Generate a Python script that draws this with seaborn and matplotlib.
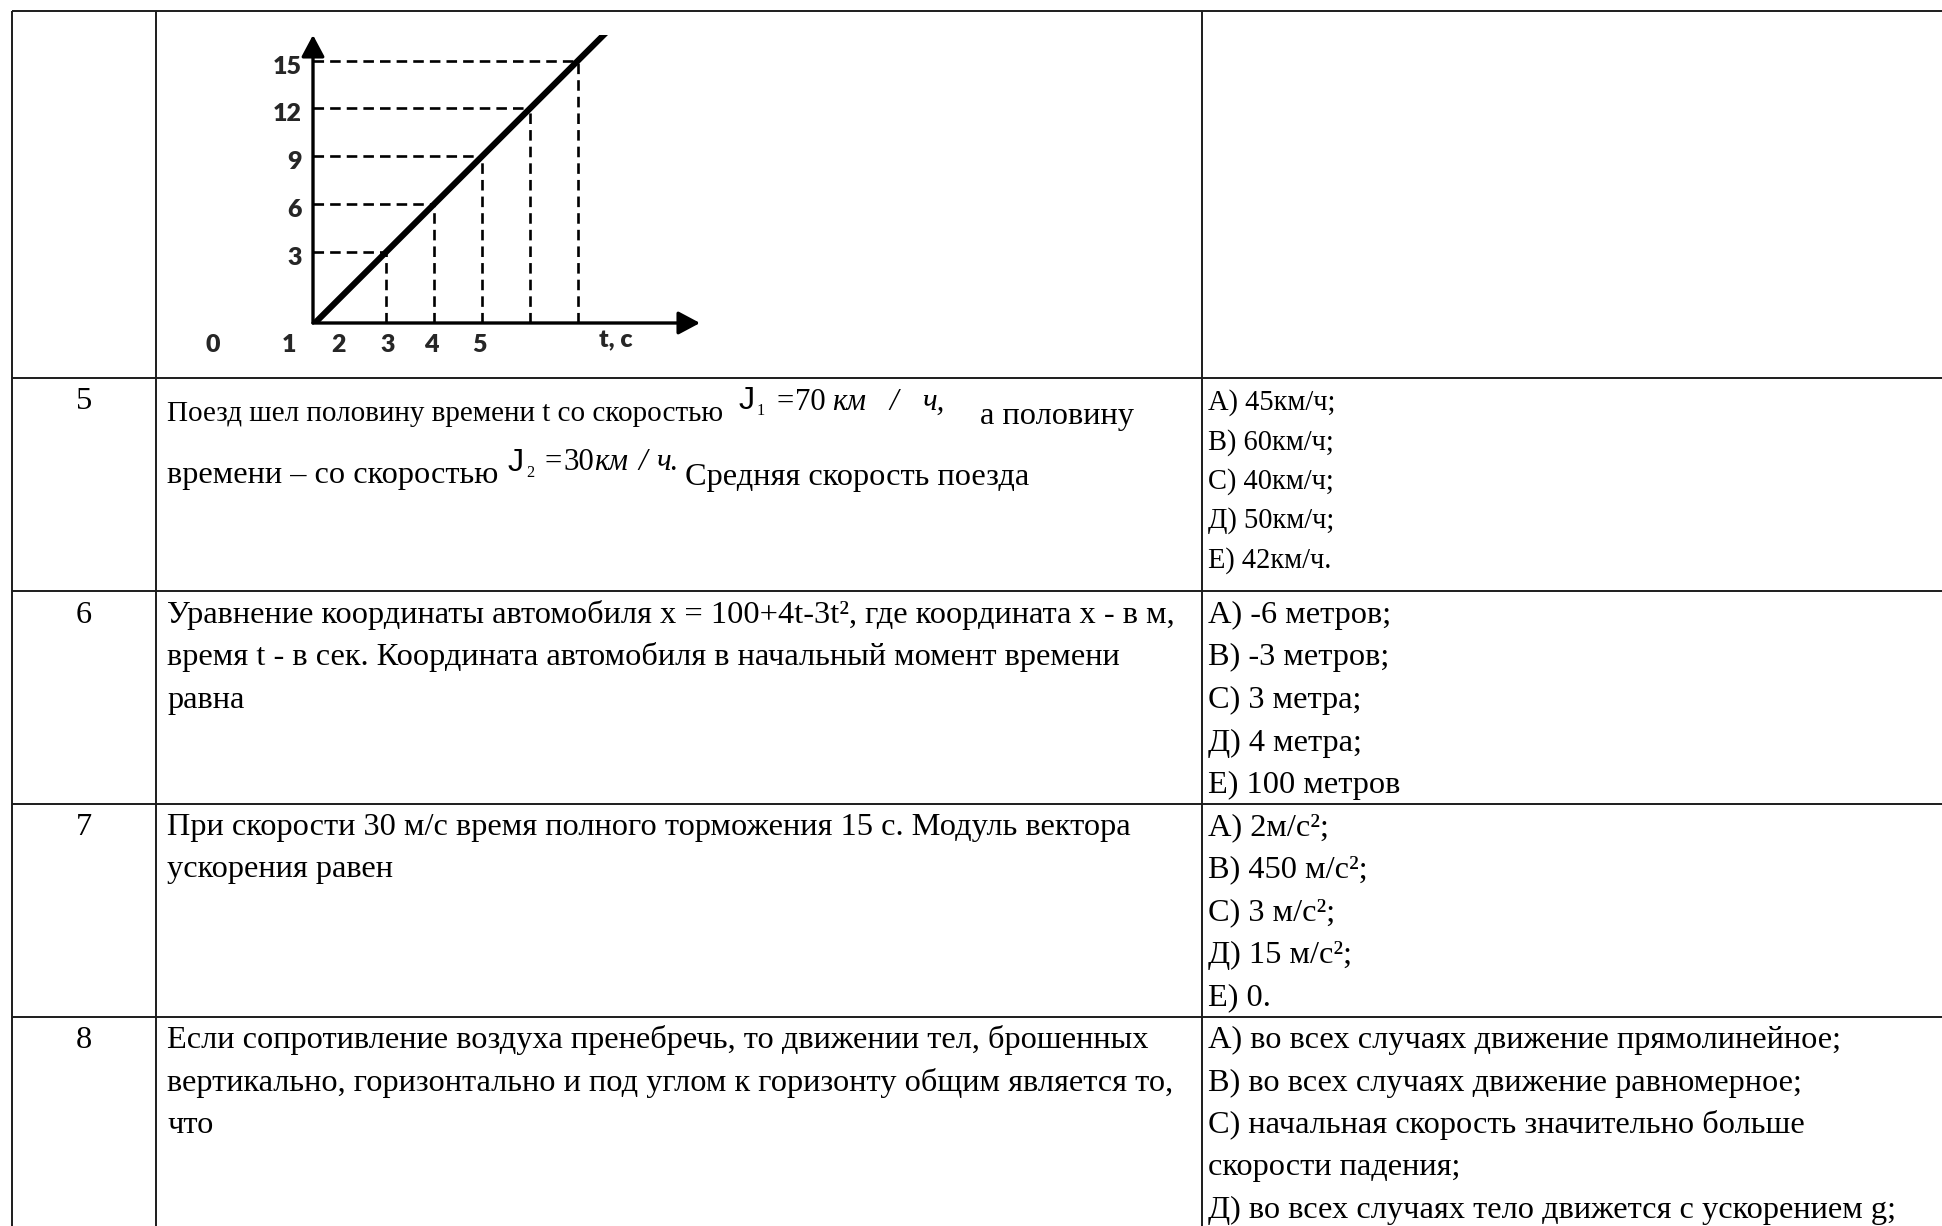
import numpy as np
import pandas as pd
import matplotlib
matplotlib.use("Agg")
import matplotlib.pyplot as plt
from matplotlib.patches import ArrowStyle
import matplotlib.transforms as mtransforms
import seaborn as sns

# ---------------- data ----------------
t_marks = [3, 4, 5, 6, 7]            # time values of the dashed guide points
v_marks = [3, 6, 9, 12, 15]          # values read on the vertical axis
y_tick_labels = ["3", "6", "9", "12", "15"]
x_tick_labels = ["0", "1", "2", "3", "4", "5"]
x_tick_pos = [-0.6, 0.98, 2.02, 3.04, 3.94, 4.94]
x_axis_label = "t, c"

row_numbers = ["5", "6", "7", "8"]
q6 = ["Уравнение координаты автомобиля x = 100+4t-3t², где координата x - в м,",
      "время t - в сек. Координата автомобиля в начальный момент времени",
      "равна"]
q7 = ["При скорости 30 м/с время полного торможения 15 с. Модуль вектора",
      "ускорения равен"]
q8 = ["Если сопротивление воздуха пренебречь, то движении тел, брошенных",
      "вертикально, горизонтально и под углом к горизонту общим является то,",
      "что"]
a5 = ["А) 45км/ч;", "В) 60км/ч;", "С) 40км/ч;", "Д) 50км/ч;", "Е) 42км/ч."]
a6 = ["А) -6 метров;", "В) -3 метров;", "С) 3 метра;", "Д) 4 метра;", "Е) 100 метров"]
a7 = ["А) 2м/с²;", "В) 450 м/с²;", "С) 3 м/с²;", "Д) 15 м/с²;", "Е) 0."]
a8 = ["А) во всех случаях движение прямолинейное;",
      "В) во всех случаях движение равномерное;",
      "С) начальная скорость значительно больше",
      "скорости падения;",
      "Д) во всех случаях тело движется с ускорением g;"]

# ---------------- style ----------------
sns.set_theme(style="white")
plt.rcParams["font.family"] = ["Liberation Serif", "DejaVu Serif"]

W, H = 1942, 1226
fig = plt.figure(figsize=(W / 100, H / 100), dpi=100)
fig.patch.set_facecolor("white")

# page axes in pixel units
bg = fig.add_axes([0, 0, 1, 1], zorder=0)
bg.set_xlim(0, W)
bg.set_ylim(H, 0)
bg.axis("off")

SERIF = "Liberation Serif"
fig.canvas.draw()
r = fig.canvas.get_renderer()
probe = bg.text(0, 0, q6[0], fontsize=10, family=SERIF)
FS = 10 * 1012 / probe.get_window_extent(r).width
probe.remove()
FS5 = FS * 0.9      # first line of row 5 is set narrower in the reference
FA5 = FS * 0.88
FEQ = FS * 0.95

# table grid
lc = "#1c1c1c"
lw = 1.4
x_left, x_c1, x_c2 = 12, 156, 1202
row_tops = [11, 378, 591, 804, 1017]
for x in (x_left, x_c1, x_c2):
    bg.plot([x, x], [row_tops[0], H], color=lc, lw=lw, solid_capstyle="butt")
for y in row_tops:
    bg.plot([x_left, W], [y, y], color=lc, lw=lw, solid_capstyle="butt")


def put(x, y, s, size=None, **kw):
    bg.text(x, y, s, fontsize=size or FS, family=kw.pop("family", SERIF),
            va="baseline", ha=kw.pop("ha", "left"), color="black", **kw)


# row numbers
num_base = [409, 623, 835, 1048]
for n, b in zip(row_numbers, num_base):
    put(84, b, n, ha="center")

# question texts
QX = 167
pitch = 42.5
for lines, b in ((q6, 623), (q7, 835), (q8, 1048)):
    for i, s in enumerate(lines):
        put(QX, b + i * pitch, s)

# question 5 with formula pieces
put(QX, 421, "Поезд шел половину времени t со скоростью", size=FS5)
put(739, 409, "J", size=FS, family="Liberation Sans")
put(757, 415, "1", size=FS * 0.5)
put(777, 410, "=", size=FEQ)
put(795, 410, "70", size=FEQ)
put(832, 410, "км", size=FEQ, style="italic")
put(889, 410, "/", size=FEQ, style="italic")
put(922, 410, "ч,", size=FEQ, style="italic")
put(980, 424, "а половину")
put(QX, 483, "времени – со скоростью")
put(508, 471, "J", size=FS, family="Liberation Sans")
put(526, 477, "2", size=FS * 0.5)
put(545, 470, "=", size=FEQ)
put(563, 470, "30", size=FEQ)
put(594, 470, "км", size=FEQ, style="italic")
put(638, 470, "/", size=FEQ, style="italic")
put(656, 470, "ч.", size=FEQ, style="italic")
put(685, 485, "Средняя скорость поезда")

# answers
AX = 1208
for lines, b, p, fs in ((a5, 410, 39.3, FA5), (a6, 623, pitch, FS),
                        (a7, 835, pitch, FS), (a8, 1048, pitch, FS)):
    for i, s in enumerate(lines):
        put(AX, b + i * p, s, size=fs)

# ---------------- chart ----------------
t0, t1 = 1.48, 9.54
v0, v1 = -1.44, 16.6
ax = fig.add_axes([313 / W, 1 - 323 / H, (700 - 313) / W, (323 - 35) / H], zorder=2)
ax.set_facecolor("none")
ax.set_xlim(t0, t1)
ax.set_ylim(v0, v1)

df = pd.DataFrame({"t": t_marks, "v": v_marks})
sns.regplot(data=df, x="t", y="v", ax=ax, ci=None, scatter=False, truncate=False,
            line_kws=dict(color="black", lw=4.4, solid_capstyle="butt"))
ax.set_xlim(t0, t1)
ax.set_ylim(v0, v1)

dash = (0, (4, 2.3))
ax.hlines(df["v"], xmin=t0, xmax=df["t"], colors="black", lw=1.9, linestyles=[dash])
ax.vlines(df["t"], ymin=v0, ymax=df["v"], colors="black", lw=1.9, linestyles=[dash])

for s in ax.spines.values():
    s.set_visible(False)
ax.set_xlabel("")
ax.set_ylabel("")
ax.set_xticks([])
ax.set_yticks(v_marks)
ax.set_yticklabels(y_tick_labels, family="Lato", fontweight="heavy", fontsize=18)
ax.tick_params(axis="y", length=0, pad=8)
off = mtransforms.ScaledTranslation(0, -4 / 100, fig.dpi_scale_trans)
for lab in ax.get_yticklabels():
    lab.set_transform(lab.get_transform() + off)

astyle = ArrowStyle("-|>", head_length=0.6, head_width=0.32)
for xy in ((1, 0), (0, 1)):
    ax.annotate("", xy=xy, xytext=(0, 0), xycoords="axes fraction",
                arrowprops=dict(arrowstyle=astyle, mutation_scale=22, lw=2.4,
                                color="black", shrinkA=0, shrinkB=0))

blend = mtransforms.blended_transform_factory(ax.transData, ax.transAxes)
for p, lab in zip(x_tick_pos, x_tick_labels):
    ax.text(p, -0.078, lab, transform=blend, ha="center", va="center",
            family="Lato", fontweight="heavy", fontsize=18, clip_on=False)
ax.text(7.79, -0.06, x_axis_label, transform=blend, ha="center", va="center",
        family="Lato", fontweight="heavy", fontsize=18, clip_on=False)

fig.savefig("out.png", dpi=100, facecolor="white")
